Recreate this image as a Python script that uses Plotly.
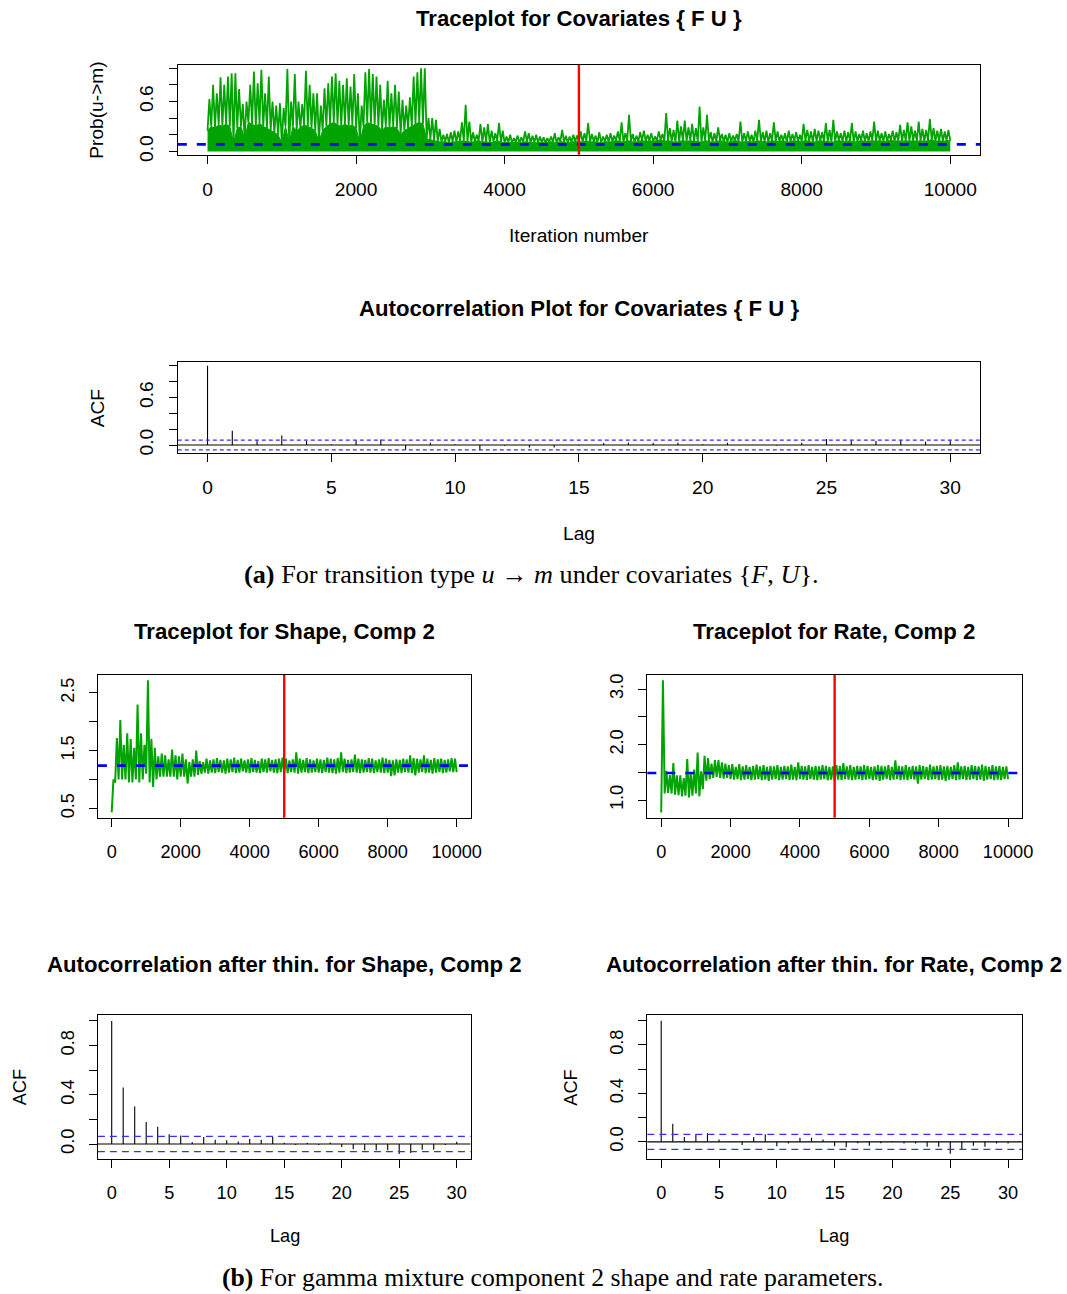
import plotly.graph_objects as go

W, H = 1067, 1294
# the captured page comes back slightly shrunk; layout positions are pre-stretched to match
SX, SY = 1077 / 1067, 1300 / 1294
GREEN = "#00A400"
SANS = "Liberation Sans, Arial, Helvetica, sans-serif"
SERIF = "Liberation Serif, Times New Roman, serif"

# ------------------------------------------------------------------ data
burnin = 5000
iter_ticks = [0, 2000, 4000, 6000, 8000, 10000]
lag_ticks = [0, 5, 10, 15, 20, 25, 30]
lags = list(range(31))

# Trace for Prob(u->m): per 50-iteration bin, spike peak and solid-core level
top_bin = 50
top_hi = [
    0.63, 0.80, 0.70, 0.89, 0.80, 0.90, 0.94, 0.94, 0.75, 0.57,
    0.60, 0.80, 0.96, 0.82, 0.98, 0.70, 0.90, 0.60, 0.55, 0.58,
    0.52, 0.99, 0.60, 0.93, 0.60, 0.57, 0.97, 0.80, 0.70, 0.70,
    0.55, 0.76, 0.82, 0.90, 0.94, 0.85, 0.80, 0.88, 0.78, 0.93,
    0.70, 0.55, 0.95, 0.99, 0.93, 0.90, 0.80, 0.62, 0.85, 0.70,
    0.80, 0.72, 0.62, 0.55, 0.65, 0.90, 0.95, 1.00, 1.00, 0.40,
    0.40, 0.38, 0.27, 0.20, 0.21, 0.23, 0.25, 0.24, 0.35, 0.56,
    0.36, 0.23, 0.20, 0.33, 0.29, 0.33, 0.25, 0.22, 0.34, 0.25,
    0.18, 0.20, 0.16, 0.19, 0.17, 0.24, 0.22, 0.19, 0.20, 0.18,
    0.17, 0.16, 0.18, 0.22, 0.17, 0.26, 0.19, 0.18, 0.20, 0.19,
    0.24, 0.22, 0.34, 0.21, 0.19, 0.23, 0.18, 0.20, 0.22, 0.19,
    0.24, 0.35, 0.22, 0.44, 0.21, 0.19, 0.23, 0.25, 0.20, 0.22,
    0.18, 0.24, 0.21, 0.46, 0.28, 0.26, 0.37, 0.30, 0.37, 0.29,
    0.33, 0.28, 0.54, 0.29, 0.44, 0.23, 0.22, 0.29, 0.21, 0.20,
    0.22, 0.19, 0.21, 0.36, 0.22, 0.24, 0.20, 0.25, 0.38, 0.23,
    0.25, 0.22, 0.35, 0.24, 0.20, 0.22, 0.25, 0.21, 0.23, 0.20,
    0.33, 0.26, 0.24, 0.27, 0.25, 0.23, 0.34, 0.26, 0.38, 0.24,
    0.22, 0.25, 0.23, 0.34, 0.24, 0.21, 0.25, 0.22, 0.24, 0.36,
    0.25, 0.22, 0.24, 0.21, 0.25, 0.23, 0.32, 0.26, 0.35, 0.30,
    0.25, 0.36, 0.27, 0.26, 0.39, 0.28, 0.25, 0.27, 0.24, 0.26,
]
top_body = [
    0.25, 0.30, 0.28, 0.32, 0.30, 0.33, 0.30, 0.10, 0.28, 0.30,
    0.15, 0.35, 0.33, 0.30, 0.34, 0.30, 0.28, 0.25, 0.22, 0.20,
    0.10, 0.30, 0.10, 0.30, 0.25, 0.28, 0.32, 0.30, 0.28, 0.25,
    0.12, 0.25, 0.30, 0.33, 0.35, 0.32, 0.30, 0.33, 0.30, 0.32,
    0.28, 0.10, 0.30, 0.35, 0.33, 0.32, 0.30, 0.25, 0.30, 0.28,
    0.30, 0.28, 0.20, 0.25, 0.28, 0.30, 0.33, 0.35, 0.33, 0.15,
    0.14, 0.13, 0.12, 0.11, 0.12, 0.10, 0.12, 0.11, 0.13, 0.12,
    0.12, 0.11, 0.12, 0.13, 0.11, 0.12, 0.10, 0.12, 0.13, 0.11,
    0.10, 0.11, 0.10, 0.12, 0.10, 0.11, 0.12, 0.10, 0.11, 0.10,
    0.11, 0.10, 0.12, 0.11, 0.10, 0.12, 0.11, 0.10, 0.11, 0.12,
    0.12, 0.11, 0.13, 0.11, 0.12, 0.11, 0.10, 0.12, 0.11, 0.12,
    0.13, 0.12, 0.11, 0.13, 0.12, 0.11, 0.12, 0.13, 0.12, 0.13,
    0.12, 0.13, 0.14, 0.12, 0.13, 0.12, 0.11, 0.12, 0.13, 0.12,
    0.13, 0.12, 0.12, 0.11, 0.13, 0.12, 0.11, 0.12, 0.13, 0.12,
    0.11, 0.12, 0.13, 0.12, 0.11, 0.12, 0.12, 0.11, 0.13, 0.12,
    0.12, 0.11, 0.13, 0.12, 0.12, 0.13, 0.11, 0.12, 0.13, 0.12,
    0.12, 0.13, 0.12, 0.11, 0.12, 0.13, 0.12, 0.12, 0.11, 0.12,
    0.13, 0.12, 0.12, 0.13, 0.11, 0.12, 0.13, 0.12, 0.12, 0.13,
    0.12, 0.13, 0.12, 0.12, 0.14, 0.12, 0.13, 0.12, 0.13, 0.12,
    0.13, 0.12, 0.13, 0.12, 0.13, 0.14, 0.12, 0.13, 0.12, 0.13,
]
top_mean = 0.085

# Shape / Rate traces: per 100-iteration bin, high and low of the chain
mix_bin = 100
shape_hi = [
    1.00, 1.72, 2.03, 1.60, 1.80, 1.70, 1.55, 2.30, 1.80, 1.60,
    2.72, 1.70, 1.55, 1.40, 1.45, 1.42, 1.35, 1.52, 1.42, 1.40,
    1.45, 1.35, 1.30, 1.35, 1.50, 1.32, 1.30, 1.36, 1.33, 1.35,
    1.37, 1.34, 1.33, 1.36, 1.35, 1.38, 1.34, 1.36, 1.33, 1.35,
    1.37, 1.34, 1.32, 1.36, 1.35, 1.37, 1.34, 1.35, 1.36, 1.38,
    1.36, 1.33, 1.35, 1.47, 1.36, 1.34, 1.37, 1.35, 1.33, 1.36,
    1.35, 1.34, 1.38, 1.36, 1.35, 1.37, 1.47, 1.36, 1.34, 1.35,
    1.43, 1.36, 1.35, 1.34, 1.37, 1.36, 1.33, 1.35, 1.38, 1.36,
    1.34, 1.33, 1.35, 1.34, 1.36, 1.35, 1.42, 1.37, 1.36, 1.35,
    1.42, 1.36, 1.34, 1.37, 1.35, 1.36, 1.34, 1.35, 1.37, 1.36,
]
shape_lo = [
    0.43, 0.95, 1.00, 1.00, 1.00, 0.95, 0.95, 1.00, 0.95, 1.00,
    1.10, 0.95, 0.87, 1.00, 1.05, 1.05, 1.05, 1.05, 1.05, 1.00,
    1.05, 1.05, 0.93, 1.05, 1.05, 1.08, 1.10, 1.12, 1.10, 1.12,
    1.11, 1.13, 1.12, 1.10, 1.12, 1.13, 1.11, 1.12, 1.14, 1.12,
    1.11, 1.13, 1.12, 1.11, 1.13, 1.12, 1.14, 1.12, 1.11, 1.13,
    1.12, 1.11, 1.13, 1.12, 1.10, 1.12, 1.13, 1.11, 1.12, 1.13,
    1.12, 1.11, 1.13, 1.12, 1.11, 1.10, 1.12, 1.13, 1.11, 1.12,
    1.13, 1.12, 1.11, 1.12, 1.13, 1.12, 1.11, 1.13, 1.12, 1.11,
    1.12, 1.06, 1.07, 1.12, 1.11, 1.13, 1.12, 1.11, 1.07, 1.12,
    1.13, 1.11, 1.12, 1.10, 1.12, 1.13, 1.11, 1.12, 1.14, 1.13,
]
shape_mean = 1.24

rate_hi = [
    3.16, 1.53, 1.45, 1.67, 1.45, 1.45, 1.40, 1.74, 1.50, 1.55,
    1.86, 1.52, 1.80, 1.76, 1.66, 1.72, 1.72, 1.68, 1.66, 1.63,
    1.65, 1.60, 1.65, 1.61, 1.63, 1.60, 1.62, 1.64, 1.61, 1.63,
    1.60, 1.62, 1.61, 1.63, 1.60, 1.62, 1.61, 1.64, 1.60, 1.68,
    1.62, 1.61, 1.63, 1.60, 1.62, 1.61, 1.63, 1.62, 1.60, 1.61,
    1.63, 1.62, 1.67, 1.61, 1.63, 1.60, 1.62, 1.61, 1.63, 1.62,
    1.60, 1.61, 1.63, 1.62, 1.61, 1.63, 1.60, 1.72, 1.62, 1.61,
    1.63, 1.60, 1.62, 1.61, 1.63, 1.62, 1.60, 1.64, 1.61, 1.62,
    1.63, 1.61, 1.62, 1.60, 1.63, 1.68, 1.61, 1.62, 1.60, 1.63,
    1.62, 1.61, 1.64, 1.62, 1.60, 1.63, 1.61, 1.62, 1.60, 1.61,
]
rate_lo = [
    0.78, 1.12, 1.13, 1.12, 1.10, 1.09, 1.07, 1.08, 1.05, 1.08,
    1.12, 1.07, 1.20, 1.35, 1.38, 1.40, 1.42, 1.40, 1.39, 1.40,
    1.38, 1.37, 1.38, 1.36, 1.37, 1.38, 1.36, 1.37, 1.38, 1.36,
    1.37, 1.35, 1.37, 1.38, 1.36, 1.37, 1.38, 1.36, 1.37, 1.36,
    1.38, 1.37, 1.36, 1.38, 1.37, 1.36, 1.37, 1.38, 1.36, 1.37,
    1.35, 1.37, 1.36, 1.38, 1.37, 1.36, 1.37, 1.38, 1.36, 1.37,
    1.38, 1.36, 1.37, 1.35, 1.37, 1.38, 1.36, 1.37, 1.38, 1.36,
    1.37, 1.36, 1.38, 1.37, 1.30, 1.37, 1.38, 1.36, 1.37, 1.38,
    1.36, 1.37, 1.35, 1.37, 1.38, 1.36, 1.37, 1.38, 1.36, 1.37,
    1.38, 1.36, 1.37, 1.35, 1.37, 1.38, 1.36, 1.37, 1.36, 1.38,
]
rate_mean = 1.49

# Autocorrelations (lags 0..30) and the 95% band
top_acf = [1.0, 0.18, 0.06, 0.12, 0.05, 0.01, 0.06, 0.07, -0.06, 0.03,
           0.01, -0.065, -0.01, -0.03, -0.03, -0.005, 0.025, 0.03, 0.03, 0.03,
           0.01, 0.03, 0.005, -0.005, 0.03, 0.075, 0.06, 0.05, 0.06, 0.04, 0.06]
shape_acf = [1.0, 0.46, 0.305, 0.18, 0.14, 0.08, 0.07, 0.016, 0.057, 0.035,
             0.03, 0.02, 0.04, 0.035, 0.057, 0.01, -0.008, 0.01, -0.008, 0.013,
             -0.025, -0.043, -0.05, -0.05, -0.05, -0.08, -0.073, -0.046, -0.046, -0.008, 0.019]
rate_acf = [1.0, 0.15, 0.04, 0.06, 0.07, 0.02, 0.003, -0.027, 0.04, 0.063,
            -0.036, -0.014, 0.033, 0.033, 0.02, -0.036, -0.044, -0.011, -0.033, -0.011,
            0.008, -0.014, -0.014, -0.041, -0.041, -0.099, -0.058, -0.033, -0.041, -0.014, -0.014]
acf_ci = 0.062

top_yticks = [0.0, 0.2, 0.4, 0.6, 0.8, 1.0]
top_ylabels = ["0.0", "", "", "0.6", "", ""]
shape_yticks = [0.5, 1.0, 1.5, 2.0, 2.5]
shape_ylabels = ["0.5", "", "1.5", "", "2.5"]
rate_yticks = [1.0, 1.5, 2.0, 2.5, 3.0]
rate_ylabels = ["1.0", "", "2.0", "", "3.0"]
acf2_ylabels = ["0.0", "", "0.4", "", "0.8", ""]

# ------------------------------------------------------------------ helpers
fig = go.Figure()


def fx(px):
    return px * SX / W


def fy(py):
    return 1 - py * SY / H


def fs(size):
    return size * SX


def ax(n):
    return ("x" if n == 1 else f"x{n}"), ("y" if n == 1 else f"y{n}")


def zigzag(lo, hi, width):
    xs, ys = [], []
    for k, (a, b) in enumerate(zip(lo, hi)):
        xs += [k * width, k * width + width / 2]
        ys += [a, b]
    xs.append(len(lo) * width)
    ys.append(lo[-1])
    return xs, ys


def stems(vals):
    xs, ys = [], []
    for l, v in zip(lags, vals):
        xs += [l, l, None]
        ys += [0, v, None]
    return xs, ys


def set_axes(n, box, xr, yr, xt, yt, ytext, fsize):
    l, r, t, b = box
    xa, ya = ax(n)
    common = dict(showline=True, mirror=True, linecolor="black", linewidth=1.2,
                  ticks="outside", ticklen=8, tickwidth=1.1, tickcolor="black",
                  showgrid=False, zeroline=False, fixedrange=True,
                  tickfont=dict(family=SANS, size=fs(fsize), color="black"))
    xkey = "xaxis" if n == 1 else f"xaxis{n}"
    ykey = "yaxis" if n == 1 else f"yaxis{n}"
    fig.update_layout(**{
        xkey: dict(domain=[fx(l), fx(r)], range=xr, anchor=ya, tickvals=xt,
                   ticktext=[str(v) for v in xt], ticklabelstandoff=9, **common),
        ykey: dict(domain=[fy(b), fy(t)], range=yr, anchor=xa, tickvals=yt,
                   ticktext=ytext, tickangle=-90, ticklabelstandoff=8, **common),
    })


def hline(n, y, color, width, dash):
    xa, ya = ax(n)
    fig.add_shape(type="line", xref=f"{xa} domain", yref=ya, x0=0, x1=1, y0=y, y1=y,
                  line=dict(color=color, width=width, dash=dash), layer="above")


def vline(n, x, color, width):
    xa, ya = ax(n)
    fig.add_shape(type="line", xref=xa, yref=f"{ya} domain", x0=x, x1=x, y0=0, y1=1,
                  line=dict(color=color, width=width), layer="above")


def note(text, px, py, size, angle=0, family=SANS):
    fig.add_annotation(text=text, x=fx(px), y=fy(py), xref="paper", yref="paper",
                       showarrow=False, xanchor="center", yanchor="middle",
                       textangle=angle, font=dict(family=family, size=fs(size), color="black"))


# ------------------------------------------------------------------ panel 1: trace u->m
set_axes(1, (178, 981, 64, 154), [-400, 10400], [-0.04, 1.04], iter_ticks,
         top_yticks, top_ylabels, 19)
bx = [k * top_bin for k in range(len(top_body))] + [len(top_body) * top_bin]
by = top_body + [top_body[-1]]
fig.add_trace(go.Scatter(x=bx, y=by, mode="lines", fill="tozeroy", fillcolor=GREEN,
                         line=dict(color=GREEN, width=1), xaxis="x", yaxis="y"))
zx, zy = zigzag(top_body, top_hi, top_bin)
fig.add_trace(go.Scatter(x=zx, y=zy, mode="lines", line=dict(color=GREEN, width=1.8),
                         xaxis="x", yaxis="y"))
hline(1, top_mean, "#0000FF", 2.6, "9px,10px")
vline(1, burnin, "#FF0000", 2.4)

# ------------------------------------------------------------------ panel 2: ACF u->m
set_axes(2, (178, 981, 362, 453), [-1.2, 31.2], [-0.104, 1.042], lag_ticks,
         top_yticks, top_ylabels, 19)
sx, sy = stems(top_acf)
fig.add_trace(go.Scatter(x=sx, y=sy, mode="lines", line=dict(color="black", width=1.1),
                         xaxis="x2", yaxis="y2"))
hline(2, 0, "black", 1.1, "solid")
hline(2, acf_ci, "#3333FF", 1.3, "4px,3px")
hline(2, -acf_ci, "#3333FF", 1.3, "4px,3px")

# ------------------------------------------------------------------ panel 3: shape trace
set_axes(3, (98, 471, 675, 818), [-400, 10400], [0.338, 2.812], iter_ticks,
         shape_yticks, shape_ylabels, 18)
zx, zy = zigzag(shape_lo, shape_hi, mix_bin)
fig.add_trace(go.Scatter(x=zx, y=zy, mode="lines", line=dict(color=GREEN, width=2.0),
                         xaxis="x3", yaxis="y3"))
hline(3, shape_mean, "#0000FF", 2.6, "9px,10px")
vline(3, burnin, "#FF0000", 2.4)

# ------------------------------------------------------------------ panel 4: rate trace
set_axes(4, (648, 1023, 675, 818), [-400, 10400], [0.685, 3.255], iter_ticks,
         rate_yticks, rate_ylabels, 18)
zx, zy = zigzag(rate_lo, rate_hi, mix_bin)
fig.add_trace(go.Scatter(x=zx, y=zy, mode="lines", line=dict(color=GREEN, width=2.0),
                         xaxis="x4", yaxis="y4"))
hline(4, rate_mean, "#0000FF", 2.6, "9px,10px")
vline(4, burnin, "#FF0000", 2.4)

# ------------------------------------------------------------------ panel 5: shape ACF
set_axes(5, (98, 471, 1016, 1160), [-1.2, 31.2], [-0.123, 1.045], lag_ticks,
         top_yticks, acf2_ylabels, 18)
sx, sy = stems(shape_acf)
fig.add_trace(go.Scatter(x=sx, y=sy, mode="lines", line=dict(color="black", width=1.1),
                         xaxis="x5", yaxis="y5"))
hline(5, 0, "black", 1.1, "solid")
hline(5, acf_ci, "#3333FF", 1.4, "7px,5px")
hline(5, -acf_ci, "#3333FF", 1.4, "7px,5px")

# ------------------------------------------------------------------ panel 6: rate ACF
set_axes(6, (648, 1023, 1016, 1160), [-1.2, 31.2], [-0.143, 1.044], lag_ticks,
         top_yticks, acf2_ylabels, 18)
sx, sy = stems(rate_acf)
fig.add_trace(go.Scatter(x=sx, y=sy, mode="lines", line=dict(color="black", width=1.1),
                         xaxis="x6", yaxis="y6"))
hline(6, 0, "black", 1.1, "solid")
hline(6, acf_ci, "#3333FF", 1.4, "7px,5px")
hline(6, -acf_ci, "#3333FF", 1.4, "7px,5px")

# ------------------------------------------------------------------ text
note("<b>Traceplot for Covariates { F U }</b>", 580, 18, 22)
note("Iteration number", 580, 235, 19)
note("Prob(u->m)", 97, 109, 19, angle=-90)
note("<b>Autocorrelation Plot for Covariates { F U }</b>", 580, 308, 22)
note("Lag", 580, 533, 19)
note("ACF", 97, 408, 19, angle=-90)
note("<b>(a)</b> For transition type <i>u</i> → <i>m</i> under covariates {<i>F</i>, <i>U</i>}.",
     532, 574, 26, family=SERIF)

note("<b>Traceplot for Shape, Comp 2</b>", 285, 631, 22)
note("<b>Traceplot for Rate, Comp 2</b>", 835, 631, 22)
note("<b>Autocorrelation after thin. for Shape, Comp 2</b>", 285, 965, 22)
note("<b>Autocorrelation after thin. for Rate, Comp 2</b>", 835, 965, 22)
note("Lag", 285, 1237, 18)
note("Lag", 835, 1237, 18)
note("ACF", 20, 1088, 18, angle=-90)
note("ACF", 572, 1088, 18, angle=-90)
note("<b>(b)</b> For gamma mixture component 2 shape and rate parameters.",
     553, 1279, 25.5, family=SERIF)

fig.update_layout(width=W, height=H, margin=dict(l=0, r=0, t=0, b=0),
                  paper_bgcolor="white", plot_bgcolor="white", showlegend=False)

fig.write_html("out.html", config={"displayModeBar": False},
               post_script="document.body.style.margin='0';")
